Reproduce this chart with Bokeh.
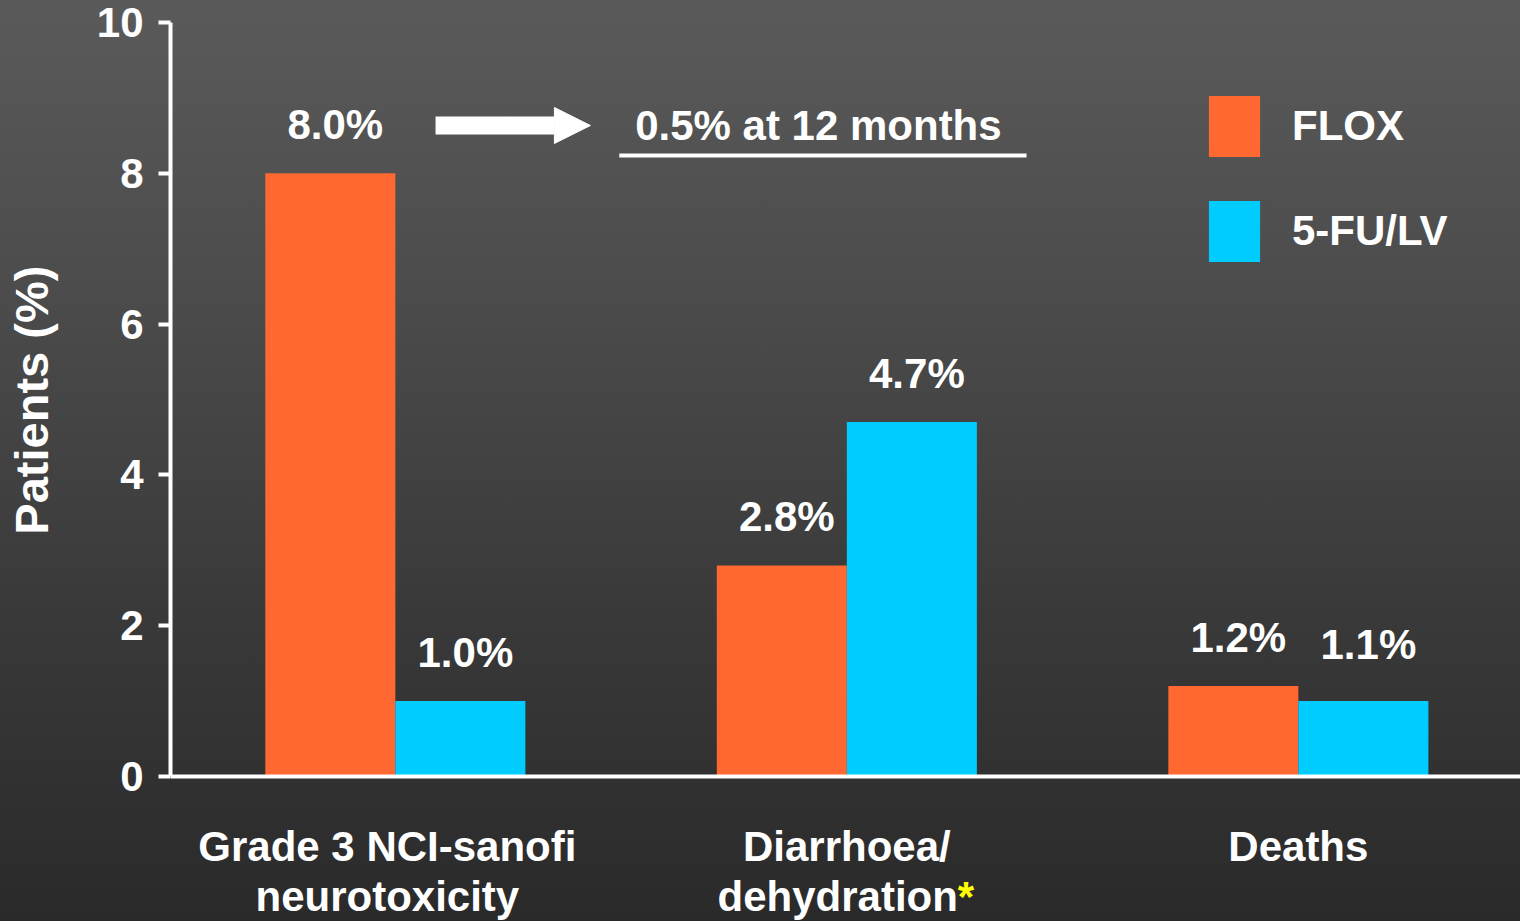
from bokeh.plotting import figure
from bokeh.models import (ColumnDataSource, Range1d, FixedTicker, Legend, LegendItem,
                          Label, Arrow, NormalHead, Span, GlobalInlineStyleSheet)
from bokeh.embed import file_html
from bokeh.resources import INLINE
from bokeh.core.properties import value

# ---------------- data ----------------
categories = ["Grade 3 NCI-sanofi\nneurotoxicity", "Diarrhoea/\ndehydration", "Deaths"]
series_names = ["FLOX", "5-FU/LV"]
flox_values = [8.0, 2.8, 1.2]
fulv_values = [1.0, 4.7, 1.0]
flox_labels = ["8.0%", "2.8%", "1.2%"]
fulv_labels = ["1.0%", "4.7%", "1.1%"]
y_ticks = [0, 2, 4, 6, 8, 10]
note_text = "0.5% at 12 months"
y_axis_title = "Patients (%)"

# ---------------- styling ----------------
FONT = "Liberation Sans"
ORANGE = "#FF6830"
CYAN = "#00CCFF"
WHITE = "#FFFFFF"
BAR_W = 0.288
GROUP_X = list(range(len(categories)))

page_css = GlobalInlineStyleSheet(css="""
html { height: 100%; background: linear-gradient(to bottom, #5a5a5a 0%, #4b4b4b 33%, #3a3a3a 65%, #2a2a2a 100%); }
body { margin: 0; background: transparent; overflow: hidden; }
""")

p = figure(width=1520, height=921, output_backend="svg", toolbar_location=None,
           x_range=Range1d(-0.498, 2.492), y_range=Range1d(-1.923, 10),
           min_border_left=170, min_border_right=0, min_border_top=22, min_border_bottom=0,
           background_fill_color=None, border_fill_color=None, outline_line_color=None)
p.stylesheets = [page_css]
p.grid.visible = False

flox_x = [g - BAR_W / 2 for g in GROUP_X]
fulv_x = [g + BAR_W / 2 for g in GROUP_X]
src_f = ColumnDataSource(dict(x=flox_x, top=flox_values, lab=flox_labels,
                              ly=[float(s.rstrip("%")) for s in flox_labels]))
src_c = ColumnDataSource(dict(x=fulv_x, top=fulv_values, lab=fulv_labels,
                              ly=[float(s.rstrip("%")) for s in fulv_labels]))

r_f = p.vbar(x="x", top="top", width=BAR_W, bottom=0, source=src_f,
             fill_color=ORANGE, line_color=None)
r_c = p.vbar(x="x", top="top", width=BAR_W, bottom=0, source=src_c,
             fill_color=CYAN, line_color=None)

for src in (src_f, src_c):
    p.text(x="x", y="ly", text="lab", source=src, x_offset=5, y_offset=-49,
           text_align="center", text_baseline="alphabetic",
           text_font=value(FONT), text_font_style="bold", text_font_size="42px",
           text_color=WHITE)

# x-axis baseline
p.add_layout(Span(location=0, dimension="width", line_color=WHITE, line_width=4))
p.xaxis.visible = False

# y axis
NBSP = "\u00a0"
p.yaxis.bounds = (0, 10)
p.yaxis.ticker = FixedTicker(ticks=y_ticks)
p.yaxis.minor_tick_line_color = None
p.yaxis.axis_line_color = WHITE
p.yaxis.axis_line_width = 4
p.yaxis.major_tick_line_color = WHITE
p.yaxis.major_tick_line_width = 4
p.yaxis.major_tick_out = 12
p.yaxis.major_tick_in = 0
p.yaxis.major_label_standoff = 15
p.yaxis.major_label_text_font = FONT
p.yaxis.major_label_text_font_style = "bold"
p.yaxis.major_label_text_font_size = "42px"
p.yaxis.major_label_text_color = WHITE
p.yaxis.axis_label = NBSP * 11 + y_axis_title
p.yaxis.axis_label_text_font = FONT
p.yaxis.axis_label_text_font_style = "bold"
p.yaxis.axis_label_text_font_size = "47px"
p.yaxis.axis_label_text_color = WHITE
p.yaxis.axis_label_standoff = 36

# category labels (below the baseline)
line_y = [-1.141, -1.804]
for g, cat in zip(GROUP_X, categories):
    for i, ln in enumerate(cat.split("\n")):
        common = dict(x=g, y=line_y[i], y_offset=16, text_baseline="alphabetic",
                      text_font=FONT, text_font_style="bold", text_font_size="42px")
        if ln == "dehydration":
            p.add_layout(Label(text=ln, x_offset=111, text_align="right",
                               text_color=WHITE, **common))
            p.add_layout(Label(text="*", x_offset=111, text_align="left",
                               text_color="#FFFF00", **common))
        else:
            dx = -8 if g == 0 else 0
            p.add_layout(Label(text=ln, x_offset=dx, text_align="center",
                               text_color=WHITE, **common))

# arrow + note
p.add_layout(Arrow(x_start=0.089, y_start=8.634, x_end=0.432, y_end=8.634,
                   line_color=WHITE, line_width=18,
                   end=NormalHead(size=36, fill_color=WHITE, line_color=WHITE, line_width=1)))
p.add_layout(Label(x=0.937, y=8.0, y_offset=48, text=note_text, text_align="center",
                   text_baseline="alphabetic", text_font=FONT, text_font_style="bold",
                   text_font_size="42px", text_color=WHITE))
p.add_layout(Arrow(x_start=0.496, y_start=8.236, x_end=1.398, y_end=8.236, start=None, end=None,
                   line_color=WHITE, line_width=4))

# legend
legend = Legend(items=[LegendItem(label=series_names[0], renderers=[r_f]),
                       LegendItem(label=series_names[1], renderers=[r_c])],
                location=(1032, 652), glyph_width=64, glyph_height=76, spacing=29,
                label_standoff=26, padding=0, margin=0,
                background_fill_alpha=0, border_line_alpha=0,
                label_text_font=FONT, label_text_font_style="bold",
                label_text_font_size="42px", label_text_color=WHITE)
p.add_layout(legend)

open("out.html", "w").write(file_html(p, INLINE))
